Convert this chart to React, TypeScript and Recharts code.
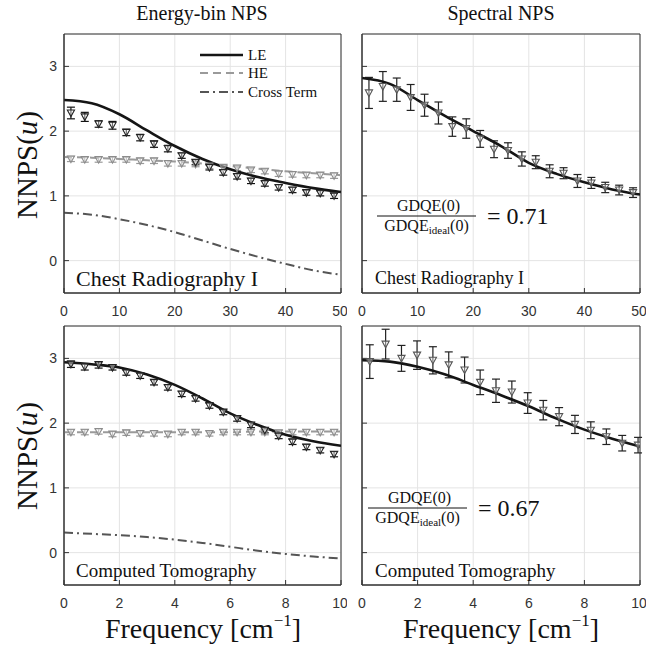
import {
  ComposedChart,
  Line,
  Scatter,
  ErrorBar,
  XAxis,
  YAxis,
  CartesianGrid,
  ReferenceArea,
} from "recharts";

// frequency samples [cm^-1]
const chestBins = [1.25, 3.75, 6.25, 8.75, 11.25, 13.75, 16.25, 18.75, 21.25, 23.75, 26.25, 28.75, 31.25, 33.75, 36.25, 38.75, 41.25, 43.75, 46.25, 48.75];
const chestCurveX = [0, 5, 10, 15, 20, 25, 30, 35, 40, 45, 50];
const ctBins = [0.25, 0.75, 1.25, 1.75, 2.25, 2.75, 3.25, 3.75, 4.25, 4.75, 5.25, 5.75, 6.25, 6.75, 7.25, 7.75, 8.25, 8.75, 9.25, 9.75];
const ctSpecBins = [0.28, 0.85, 1.42, 1.98, 2.55, 3.12, 3.69, 4.25, 4.82, 5.39, 5.96, 6.52, 7.09, 7.66, 8.23, 8.79, 9.36, 9.93];
const ctCurveX = [0, 1, 2, 3, 4, 5, 6, 7, 8, 9, 10];

const chestTicks = [0, 10, 20, 30, 40, 50];
const ctTicks = [0, 2, 4, 6, 8, 10];
const yTicks = [0, 1, 2, 3];

// Chest radiography, energy-bin NPS
const chestLECurve = [2.48, 2.43, 2.26, 2.01, 1.77, 1.57, 1.41, 1.29, 1.2, 1.12, 1.06];
const chestHECurve = [1.6, 1.59, 1.57, 1.55, 1.53, 1.5, 1.46, 1.42, 1.38, 1.35, 1.32];
const chestCrossCurve = [0.74, 0.71, 0.64, 0.55, 0.44, 0.31, 0.18, 0.06, -0.05, -0.15, -0.22];
const chestLE = [2.28, 2.22, 2.11, 2.09, 1.98, 1.9, 1.8, 1.73, 1.62, 1.52, 1.44, 1.36, 1.3, 1.23, 1.19, 1.13, 1.09, 1.05, 1.04, 1.0];
const chestLEErr = [0.09, 0.07, 0.05, 0.06, 0.05, 0.05, 0.05, 0.05, 0.04, 0.04, 0.04, 0.04, 0.04, 0.04, 0.04, 0.04, 0.04, 0.04, 0.04, 0.04];
const chestHE = [1.57, 1.56, 1.56, 1.56, 1.56, 1.54, 1.54, 1.5, 1.5, 1.49, 1.46, 1.44, 1.43, 1.4, 1.38, 1.34, 1.33, 1.32, 1.32, 1.31];
const chestHEErr = [0.04, 0.04, 0.04, 0.04, 0.04, 0.04, 0.04, 0.04, 0.04, 0.04, 0.04, 0.04, 0.04, 0.04, 0.04, 0.04, 0.04, 0.04, 0.04, 0.04];

// Chest radiography, spectral NPS
const chestSpecCurve = [2.82, 2.73, 2.48, 2.23, 2.0, 1.77, 1.51, 1.34, 1.21, 1.1, 1.02];
const chestSpec = [2.59, 2.69, 2.64, 2.52, 2.4, 2.28, 2.07, 2.04, 1.88, 1.72, 1.7, 1.57, 1.52, 1.38, 1.35, 1.23, 1.2, 1.13, 1.09, 1.05];
const chestSpecErr = [0.24, 0.23, 0.18, 0.2, 0.17, 0.17, 0.15, 0.15, 0.13, 0.13, 0.12, 0.11, 0.1, 0.1, 0.085, 0.1, 0.085, 0.08, 0.075, 0.075];

// Computed tomography, energy-bin NPS
const ctLECurve = [2.94, 2.91, 2.86, 2.75, 2.59, 2.38, 2.15, 1.97, 1.82, 1.72, 1.65];
const ctHECurve = [1.86, 1.86, 1.86, 1.86, 1.86, 1.86, 1.86, 1.87, 1.87, 1.87, 1.87];
const ctCrossCurve = [0.31, 0.29, 0.27, 0.24, 0.2, 0.15, 0.09, 0.03, -0.02, -0.06, -0.09];
const ctLE = [2.91, 2.87, 2.9, 2.86, 2.78, 2.73, 2.63, 2.55, 2.45, 2.38, 2.27, 2.17, 2.07, 1.97, 1.89, 1.8, 1.71, 1.63, 1.58, 1.52];
const ctLEErr = [0.05, 0.05, 0.05, 0.04, 0.04, 0.04, 0.04, 0.04, 0.04, 0.04, 0.04, 0.04, 0.04, 0.04, 0.04, 0.04, 0.04, 0.04, 0.04, 0.04];
const ctHE = [1.86, 1.86, 1.87, 1.83, 1.85, 1.84, 1.84, 1.83, 1.86, 1.86, 1.84, 1.86, 1.86, 1.86, 1.86, 1.85, 1.86, 1.86, 1.86, 1.86];
const ctHEErr = [0.04, 0.04, 0.04, 0.04, 0.04, 0.04, 0.04, 0.04, 0.04, 0.04, 0.04, 0.04, 0.04, 0.04, 0.04, 0.04, 0.04, 0.04, 0.04, 0.04];

// Computed tomography, spectral NPS
const ctSpecCurve = [2.97, 2.95, 2.87, 2.75, 2.59, 2.43, 2.26, 2.07, 1.9, 1.76, 1.64];
const ctSpec = [2.95, 3.22, 3.0, 3.05, 2.97, 2.9, 2.82, 2.63, 2.5, 2.48, 2.31, 2.2, 2.1, 1.98, 1.89, 1.79, 1.69, 1.66];
const ctSpecErr = [0.26, 0.23, 0.2, 0.22, 0.21, 0.2, 0.2, 0.19, 0.18, 0.17, 0.16, 0.15, 0.14, 0.14, 0.13, 0.12, 0.12, 0.12];

type Pt = { x: number; y: number; e?: number };
const zip = (xs: number[], ys: number[], es?: number[]): Pt[] =>
  xs.map((x, i) => ({ x, y: ys[i], e: es ? es[i] : undefined }));

const SERIF = "Liberation Serif";
const SANS = "Liberation Sans";
const serif = (size: number) => ({ fontFamily: SERIF, fontSize: size, fill: "#111" });

const LE_STYLE = { stroke: "#151515", width: 2.6, dash: undefined as string | undefined };
const HE_STYLE = { stroke: "#9a9a9a", width: 2, dash: "8 5" };
const CROSS_STYLE = { stroke: "#555555", width: 2, dash: "9 4 2 4" };

const LEGEND = [
  { name: "LE", ...LE_STYLE },
  { name: "HE", ...HE_STYLE },
  { name: "Cross Term", ...CROSS_STYLE },
];

interface Curve {
  data: Pt[];
  stroke: string;
  width: number;
  dash?: string;
}
interface Markers {
  data: Pt[];
  stroke: string;
  bar: string;
}
interface PanelProps {
  left: number;
  top: number;
  plotW: number;
  plotH: number;
  xMax: number;
  xTicks: number[];
  yLabels: boolean;
  curves: Curve[];
  markers: Markers[];
}

const downTriangle = (stroke: string) => (props: any) => {
  const { cx, cy } = props;
  if (cx == null || cy == null) return <g />;
  return (
    <path
      d={`M${cx - 3.6},${cy - 3} L${cx + 3.6},${cy - 3} L${cx},${cy + 3.6} Z`}
      fill="#fff"
      fillOpacity={0.4}
      stroke={stroke}
      strokeWidth={1.1}
    />
  );
};

const YW = 60;
const TM = 4;
const RM = 6;
const XH = 32;
const blank = () => "";

function Panel({ left, top, plotW, plotH, xMax, xTicks, yLabels, curves, markers }: PanelProps) {
  return (
    <div style={{ position: "absolute", left: left - YW, top: top - TM }}>
      <ComposedChart
        width={plotW + YW + RM}
        height={plotH + TM + XH}
        margin={{ top: TM, right: RM, left: 0, bottom: 0 }}
      >
        <CartesianGrid stroke="#e4e4e4" strokeWidth={1} />
        <XAxis
          dataKey="x"
          type="number"
          domain={[0, xMax]}
          ticks={xTicks}
          allowDataOverflow
          height={XH}
          tick={{ fontSize: 14, fill: "#333", fontFamily: SANS }}
          tickSize={-5}
          tickMargin={18}
          tickLine={{ stroke: "#333" }}
          axisLine={{ stroke: "#333" }}
        />
        <XAxis
          xAxisId="top"
          orientation="top"
          type="number"
          domain={[0, xMax]}
          ticks={xTicks}
          allowDataOverflow
          height={0}
          tickFormatter={blank}
          tickSize={-5}
          tickLine={{ stroke: "#333" }}
          axisLine={{ stroke: "#333" }}
        />
        <YAxis
          dataKey="y"
          type="number"
          domain={[-0.5, 3.5]}
          ticks={yTicks}
          allowDataOverflow
          width={YW}
          tick={{ fontSize: 14, fill: "#333", fontFamily: SANS }}
          tickFormatter={(v) => (yLabels ? `${v}` : "")}
          tickSize={-5}
          tickMargin={12}
          tickLine={{ stroke: "#333" }}
          axisLine={{ stroke: "#333" }}
        />
        <YAxis
          yAxisId="right"
          orientation="right"
          type="number"
          domain={[-0.5, 3.5]}
          ticks={yTicks}
          allowDataOverflow
          width={0}
          tickFormatter={blank}
          tickSize={-5}
          tickLine={{ stroke: "#333" }}
          axisLine={{ stroke: "#333" }}
        />
        <ReferenceArea x1={0} x2={xMax} y1={-0.5} y2={3.5} fill="none" stroke="#333" strokeWidth={1} />
        {markers.map((m, i) => (
          <Scatter
            key={`m${i}`}
            data={m.data}
            dataKey="y"
            shape={downTriangle(m.stroke)}
            isAnimationActive={false}
          >
            <ErrorBar dataKey="e" direction="y" width={4} stroke={m.bar} strokeWidth={1.2} />
          </Scatter>
        ))}
        {curves.map((c, i) => (
          <Line
            key={`c${i}`}
            data={c.data}
            dataKey="y"
            type="monotone"
            stroke={c.stroke}
            strokeWidth={c.width}
            strokeDasharray={c.dash}
            dot={false}
            activeDot={false}
            isAnimationActive={false}
          />
        ))}
      </ComposedChart>
    </div>
  );
}

function Fraction({ barL, barR, barY, value, valueX }: { barL: number; barR: number; barY: number; value: string; valueX: number }) {
  const mid = (barL + barR) / 2;
  return (
    <g>
      <text x={mid + 2} y={barY - 5} textAnchor="middle" style={serif(16)}>GDQE(0)</text>
      <line x1={barL} x2={barR} y1={barY} y2={barY} stroke="#111" strokeWidth={1} />
      <text x={mid} y={barY + 15} textAnchor="middle" style={serif(16)}>
        GDQE<tspan style={{ fontSize: 11 }} dy={3}>ideal</tspan>
        <tspan dy={-3}>(0)</tspan>
      </text>
      <text x={valueX} y={barY + 8} style={serif(24)}>{value}</text>
    </g>
  );
}

function FreqLabel({ x }: { x: number }) {
  return (
    <text x={x} y={638} textAnchor="middle" style={serif(28)}>
      Frequency [cm<tspan style={{ fontSize: 17 }} dy={-12}>−1</tspan>
      <tspan dy={12}>]</tspan>
    </text>
  );
}

function NnpsLabel({ cy }: { cy: number }) {
  return (
    <text transform={`translate(37,${cy}) rotate(-90)`} textAnchor="middle" style={serif(29)}>
      NNPS(<tspan style={{ fontStyle: "italic" }}>u</tspan>)
    </text>
  );
}

export default function App() {
  return (
    <div style={{ position: "absolute", left: 0, top: 0, width: 665, height: 648, background: "#fff" }}>
      <Panel
        left={64}
        top={34}
        plotW={277}
        plotH={259}
        xMax={50}
        xTicks={chestTicks}
        yLabels
        markers={[
          { data: zip(chestBins, chestHE, chestHEErr), stroke: "#8c8c8c", bar: "#9a9a9a" },
          { data: zip(chestBins, chestLE, chestLEErr), stroke: "#222", bar: "#111" },
        ]}
        curves={[
          { data: zip(chestCurveX, chestCrossCurve), ...CROSS_STYLE },
          { data: zip(chestCurveX, chestHECurve), ...HE_STYLE },
          { data: zip(chestCurveX, chestLECurve), ...LE_STYLE },
        ]}
      />
      <Panel
        left={362}
        top={34}
        plotW={278}
        plotH={259}
        xMax={50}
        xTicks={chestTicks}
        yLabels={false}
        markers={[{ data: zip(chestBins, chestSpec, chestSpecErr), stroke: "#555", bar: "#222" }]}
        curves={[{ data: zip(chestCurveX, chestSpecCurve), ...LE_STYLE }]}
      />
      <Panel
        left={64}
        top={326}
        plotW={277}
        plotH={259}
        xMax={10}
        xTicks={ctTicks}
        yLabels
        markers={[
          { data: zip(ctBins, ctHE, ctHEErr), stroke: "#8c8c8c", bar: "#9a9a9a" },
          { data: zip(ctBins, ctLE, ctLEErr), stroke: "#222", bar: "#111" },
        ]}
        curves={[
          { data: zip(ctCurveX, ctCrossCurve), ...CROSS_STYLE },
          { data: zip(ctCurveX, ctHECurve), ...HE_STYLE },
          { data: zip(ctCurveX, ctLECurve), ...LE_STYLE },
        ]}
      />
      <Panel
        left={362}
        top={326}
        plotW={278}
        plotH={259}
        xMax={10}
        xTicks={ctTicks}
        yLabels={false}
        markers={[{ data: zip(ctSpecBins, ctSpec, ctSpecErr), stroke: "#555", bar: "#222" }]}
        curves={[{ data: zip(ctCurveX, ctSpecCurve), ...LE_STYLE }]}
      />

      <svg width={665} height={648} style={{ position: "absolute", left: 0, top: 0, pointerEvents: "none" }}>
        <text x={202} y={20} textAnchor="middle" style={serif(20)}>Energy-bin NPS</text>
        <text x={501} y={20} textAnchor="middle" style={serif(20)}>Spectral NPS</text>

        <NnpsLabel cy={165} />
        <NnpsLabel cy={456} />
        <FreqLabel x={203} />
        <FreqLabel x={501} />

        <text x={76} y={286} style={serif(22)}>Chest Radiography I</text>
        <text x={375} y={284} style={serif(18)}>Chest Radiography I</text>
        <text x={76} y={577} style={serif(19)}>Computed Tomography</text>
        <text x={375} y={577} style={serif(19)}>Computed Tomography</text>

        {LEGEND.map((l, i) => {
          const y = [55, 73, 92][i];
          return (
            <g key={l.name}>
              <line x1={200} x2={243} y1={y} y2={y} stroke={l.stroke} strokeWidth={l.width} strokeDasharray={l.dash} />
              <text x={248} y={y + 5} style={serif(15)}>{l.name}</text>
            </g>
          );
        })}

        <Fraction barL={377} barR={476} barY={216} value="= 0.71" valueX={487} />
        <Fraction barL={368} barR={467} barY={508} value="= 0.67" valueX={478} />
      </svg>
    </div>
  );
}
